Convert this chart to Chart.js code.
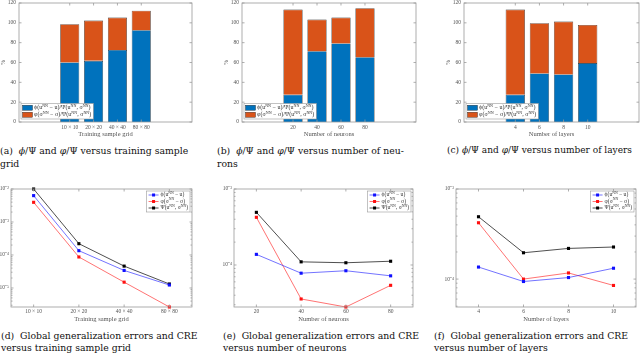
<!DOCTYPE html>
<html>
<head>
<meta charset="utf-8">
<script src="https://cdn.jsdelivr.net/npm/chart.js@4.4.1/dist/chart.umd.min.js"></script>
<style>
body { margin: 0; background: #fff; width: 640px; height: 354px; position: relative; overflow: hidden; }
canvas { position: absolute; }
.cap { position: absolute; font-family: 'DejaVu Serif'; font-size: 9.3px; color: #111; white-space: pre; }
.top { line-height: 13px; }
.bot { line-height: 11.5px; }
</style>
</head>
<body>
<canvas id="ca" width="213" height="142" style="left:0;top:0"></canvas>
<canvas id="cb" width="213" height="142" style="left:213px;top:0"></canvas>
<canvas id="cc" width="214" height="142" style="left:426px;top:0"></canvas>
<canvas id="cd" width="213" height="145" style="left:0;top:180px"></canvas>
<canvas id="ce" width="213" height="145" style="left:213px;top:180px"></canvas>
<canvas id="cf" width="214" height="145" style="left:426px;top:180px"></canvas>

<div class="cap top" style="left:0;top:144px">(a)  <i>ϕ</i>/Ψ and <i>φ</i>/Ψ versus training sample
grid</div>
<div class="cap top" style="left:217px;top:144px">(b)  <i>ϕ</i>/Ψ and <i>φ</i>/Ψ versus number of neu-
rons</div>
<div class="cap top" style="left:447px;top:144px;font-size:9px">(c) <i>ϕ</i>/Ψ and <i>φ</i>/Ψ versus number of layers</div>
<div class="cap bot" style="left:1px;top:330px">(d)  Global generalization errors and CRE
versus training sample grid</div>
<div class="cap bot" style="left:223px;top:330px">(e)  Global generalization errors and CRE
versus number of neurons</div>
<div class="cap bot" style="left:434px;top:330px">(f)  Global generalization errors and CRE
versus number of layers</div>

<script>
// categories
var gridLabels = ['10 × 10', '20 × 20', '40 × 40', '80 × 80'];
var neuronCounts = [20, 40, 60, 80];
var layerCounts = [4, 6, 8, 10];

// legend texts
var barLegend = ['ϕ(u^{NN} − u)/Ψ(u^{NN}, σ^{NN})', 'φ(σ^{NN} − σ)/Ψ(u^{NN}, σ^{NN})'];
var lineLegend = ['ϕ(u^{NN} − u)', 'φ(σ^{NN} − σ)', 'Ψ(u^{NN}, σ^{NN})'];

// stacked shares (%)
var gridPhiPct = [60.0, 61.7, 72.7, 92.5];
var gridVarphiPct = [38.6, 40.6, 32.6, 19.8];
var neuronPhiPct = [27.5, 71.4, 79.2, 65.4];
var neuronVarphiPct = [85.9, 31.9, 26.1, 49.3];
var layerPhiPct = [27.5, 49.0, 48.0, 59.4];
var layerVarphiPct = [85.9, 50.6, 53.3, 38.5];

// errors (log scale)
var gridPhiErr = [6.3e-3, 1.35e-4, 3.4e-5, 1.23e-5];
var gridVarphiErr = [3.95e-3, 8.7e-5, 1.5e-5, 2.65e-6];
var gridCre = [1.0e-2, 2.2e-4, 4.6e-5, 1.32e-5];
var neuronPhiErr = [1.38e-4, 7.8e-5, 8.4e-5, 7.2e-5];
var neuronVarphiErr = [4.24e-4, 3.57e-5, 2.8e-5, 5.4e-5];
var neuronCre = [4.93e-4, 1.1e-4, 1.07e-4, 1.12e-4];
var layerPhiErr = [1.36e-4, 9.4e-5, 1.04e-4, 1.32e-4];
var layerVarphiErr = [4.22e-4, 1.0e-4, 1.17e-4, 8.5e-5];
var layerCre = [4.92e-4, 1.96e-4, 2.19e-4, 2.27e-4];

Chart.defaults.font.family = 'Liberation Serif';
Chart.defaults.color = '#555';

var FONT = 'Liberation Serif';

function drawRich(ctx, str, x, y, size, measureOnly){
    var parts = str.split(/(\^\{[^}]*\})/);
    parts.forEach(function(p){
        if (!p) return;
        if (p.indexOf('^{') === 0) {
            var s = p.slice(2, -1);
            ctx.font = (size * 0.68) + 'px ' + FONT;
            if (!measureOnly) ctx.fillText(s, x, y - size * 0.38);
            x += ctx.measureText(s).width;
        } else {
            ctx.font = size + 'px ' + FONT;
            if (!measureOnly) ctx.fillText(p, x, y);
            x += ctx.measureText(p).width;
        }
    });
    return x;
}

// matlab style box with inward ticks
var boxPlugin = {
    id: 'matlabBox',
    afterDatasetsDraw: function(chart){
        var ctx = chart.ctx, a = chart.chartArea, sx = chart.scales.x, sy = chart.scales.y;
        ctx.save();
        ctx.strokeStyle = '#9a9a9a';
        ctx.lineWidth = 0.8;
        ctx.strokeRect(a.left, a.top, a.right - a.left, a.bottom - a.top);
        ctx.beginPath();
        sx.ticks.forEach(function(t){
            var px = sx.getPixelForValue(t.value);
            ctx.moveTo(px, a.bottom); ctx.lineTo(px, a.bottom - 2.5);
            ctx.moveTo(px, a.top); ctx.lineTo(px, a.top + 2.5);
        });
        sy.ticks.forEach(function(t){
            var py = sy.getPixelForValue(t.value);
            var len = t.minor ? 1.5 : 2.5;
            ctx.moveTo(a.left, py); ctx.lineTo(a.left + len, py);
            ctx.moveTo(a.right, py); ctx.lineTo(a.right - len, py);
        });
        ctx.stroke();
        ctx.restore();
    }
};

var legendPlugin = {
    id: 'cornerLegend',
    afterDraw: function(chart, args, opts){
        var ctx = chart.ctx, a = chart.chartArea;
        var sets = chart.data.datasets;
        var size = opts.kind === 'bar' ? 6 : 5.6, rowH = opts.kind === 'bar' ? 7 : 6.5, textX = opts.kind === 'bar' ? 13 : 14;
        ctx.save();
        var w = 0;
        sets.forEach(function(d){ w = Math.max(w, drawRich(ctx, d.label, 0, 0, size, true)); });
        var boxW = textX + w + 2, boxH = sets.length * rowH + 1.5;
        var x0, y0;
        if (opts.corner === 'bl') { x0 = a.left + 2; y0 = a.bottom - 3 - boxH; }
        else { x0 = a.right - 2 - boxW; y0 = a.top + 2; }
        ctx.fillStyle = '#fff';
        ctx.fillRect(x0, y0, boxW, boxH);
        ctx.strokeStyle = '#9a9a9a';
        ctx.lineWidth = 0.6;
        ctx.strokeRect(x0, y0, boxW, boxH);
        ctx.textBaseline = 'middle';
        sets.forEach(function(d, i){
            var cy = y0 + 0.75 + rowH * (i + 0.5);
            if (opts.kind === 'bar') {
                ctx.fillStyle = d.backgroundColor;
                ctx.fillRect(x0 + 1.5, cy - 2.5, 10, 5);
                ctx.strokeStyle = '#222';
                ctx.lineWidth = 0.4;
                ctx.strokeRect(x0 + 1.5, cy - 2.5, 10, 5);
            } else {
                ctx.strokeStyle = d.borderColor;
                ctx.lineWidth = 1;
                ctx.beginPath(); ctx.moveTo(x0 + 2, cy); ctx.lineTo(x0 + 12, cy); ctx.stroke();
                ctx.fillStyle = d.pointBackgroundColor;
                ctx.fillRect(x0 + 5.5, cy - 1.5, 3, 3);
            }
            ctx.fillStyle = '#333';
            drawRich(ctx, d.label, x0 + textX, cy, size, false);
        });
        ctx.restore();
    }
};

function barChart(id, names, phiPct, varphiPct, xTitle, frame){
    var pos = names.map(function(n, i){ return i + 1; });
    function pts(vals){ return pos.map(function(p, i){ return {x: p, y: vals[i]}; }); }
    new Chart(document.getElementById(id), {
        type: 'bar',
        data: {
            datasets: [
                {label: barLegend[0], data: pts(phiPct), backgroundColor: '#0072BD', borderColor: '#1c1c1c', borderWidth: 0.6, categoryPercentage: 1, barPercentage: 0.8},
                {label: barLegend[1], data: pts(varphiPct), backgroundColor: '#D95319', borderColor: '#1c1c1c', borderWidth: 0.6, categoryPercentage: 1, barPercentage: 0.8}
            ]
        },
        options: {
            responsive: false,
            animation: false,
            layout: {padding: {left: frame.pl, right: frame.pr, top: frame.pt, bottom: 0}},
            plugins: {legend: {display: false}, tooltip: {enabled: false}, cornerLegend: {corner: 'bl', kind: 'bar'}},
            scales: {
                x: {
                    type: 'linear', stacked: true, min: -0.22, max: 5.22,
                    grid: {display: false, drawTicks: false}, border: {display: false},
                    afterBuildTicks: function(s){ s.ticks = pos.map(function(v){ return {value: v}; }); },
                    afterFit: function(s){ s.height = frame.xh; s.paddingLeft = 0; s.paddingRight = 0; },
                    ticks: {autoSkip: false, maxRotation: 0, padding: 2, font: {size: 5.5}, callback: function(v){ return names[v - 1]; }},
                    title: {display: true, text: xTitle, font: {size: 6.5}, padding: {top: 0, bottom: 3.4}}
                },
                y: {
                    stacked: true, min: 0, max: 120,
                    grid: {display: false, drawTicks: false}, border: {display: false},
                    ticks: {stepSize: 20, padding: 3, font: {size: 5.5}},
                    afterFit: function(s){ s.width = frame.yw; s.paddingTop = 0; s.paddingBottom = 0; },
                    title: {display: true, text: '%', font: {size: 5.5}, padding: 0}
                }
            }
        },
        plugins: [boxPlugin, legendPlugin]
    });
}

var SUP = {'-': '⁻', '0': '⁰', '1': '¹', '2': '²', '3': '³', '4': '⁴', '5': '⁵', '6': '⁶', '7': '⁷', '8': '⁸', '9': '⁹'};

function logTicks(s){
    var out = [];
    for (var e = Math.floor(Math.log10(s.min)); e <= Math.ceil(Math.log10(s.max)); e++) {
        for (var m = 1; m < 10; m++) {
            var v = m * Math.pow(10, e);
            if (v >= s.min * 0.999 && v <= s.max * 1.001) out.push({value: v, minor: m !== 1, exp: e});
        }
    }
    s.ticks = out;
}

function lineChart(id, cfg){
    function pts(vals){ return cfg.xs.map(function(x, i){ return {x: x, y: vals[i]}; }); }
    function ds(label, vals, line, mark){
        return {label: label, data: pts(vals), borderColor: line, backgroundColor: mark, pointBackgroundColor: mark,
                pointBorderWidth: 0, pointStyle: 'rect', pointRadius: 2.2, borderWidth: 1, clip: false, tension: 0};
    }
    new Chart(document.getElementById(id), {
        type: 'line',
        data: {
            datasets: [
                ds(lineLegend[0], cfg.phi, 'rgba(40,40,255,0.65)', '#1010ff'),
                ds(lineLegend[1], cfg.varphi, 'rgba(255,40,40,0.65)', '#ff1010'),
                ds(lineLegend[2], cfg.cre, 'rgba(20,20,20,0.75)', '#000')
            ]
        },
        options: {
            responsive: false,
            animation: false,
            layout: {padding: {left: 0, right: cfg.frame.pr, top: cfg.frame.pt, bottom: 0}},
            plugins: {legend: {display: false}, tooltip: {enabled: false}, cornerLegend: {corner: 'tr', kind: 'line'}},
            scales: {
                x: {
                    type: 'linear', min: cfg.xMin, max: cfg.xMax,
                    grid: {display: false, drawTicks: false}, border: {display: false},
                    afterBuildTicks: function(s){ s.ticks = cfg.xs.map(function(v){ return {value: v}; }); },
                    afterFit: function(s){ s.height = cfg.frame.xh; s.paddingLeft = 0; s.paddingRight = 0; },
                    ticks: {autoSkip: false, maxRotation: 0, padding: 1.5, font: {size: 5.5},
                            callback: function(v, i){ return cfg.names[i]; }},
                    title: {display: true, text: cfg.xTitle, font: {size: 6.5}, padding: {top: 0, bottom: 1.8}}
                },
                y: {
                    type: 'logarithmic', min: cfg.yMin, max: cfg.yMax,
                    grid: {display: false, drawTicks: false}, border: {display: false},
                    afterBuildTicks: logTicks,
                    afterFit: function(s){ s.width = cfg.frame.yw; s.paddingTop = 0; s.paddingBottom = 0; },
                    ticks: {autoSkip: false, padding: 2, font: {size: 5.5},
                            callback: function(v, i, ticks){
                                var t = ticks[i];
                                if (t.minor) return '';
                                return '10' + String(t.exp).split('').map(function(c){ return SUP[c]; }).join('');
                            }}
                }
            }
        },
        plugins: [boxPlugin, legendPlugin]
    });
}

barChart('ca', gridLabels, gridPhiPct, gridVarphiPct, 'Training sample grid', {pl: 0, yw: 19, pr: 21, pt: 3, xh: 20});
barChart('cb', neuronCounts.map(String), neuronPhiPct, neuronVarphiPct, 'Number of neurons', {pl: 10, yw: 19, pr: 10, pt: 3, xh: 20});
barChart('cc', layerCounts.map(String), layerPhiPct, layerVarphiPct, 'Number of layers', {pl: 19, yw: 19, pr: 1, pt: 3, xh: 20});

lineChart('cd', {xs: [1, 2, 3, 4], names: gridLabels, xMin: 0.5, xMax: 4.5, yMin: 2.65e-6, yMax: 1e-2,
    phi: gridPhiErr, varphi: gridVarphiErr, cre: gridCre, xTitle: 'Training sample grid',
    frame: {yw: 11, pr: 21, pt: 9, xh: 18}});
lineChart('ce', {xs: neuronCounts, names: neuronCounts.map(String), xMin: 10, xMax: 90, yMin: 2.8e-5, yMax: 1e-3,
    phi: neuronPhiErr, varphi: neuronVarphiErr, cre: neuronCre, xTitle: 'Number of neurons',
    frame: {yw: 21, pr: 13, pt: 9, xh: 18}});
lineChart('cf', {xs: layerCounts, names: layerCounts.map(String), xMin: 3, xMax: 11, yMin: 4.9e-5, yMax: 1e-3,
    phi: layerPhiErr, varphi: layerVarphiErr, cre: layerCre, xTitle: 'Number of layers',
    frame: {yw: 30, pr: 4, pt: 9, xh: 18}});
</script>
</body>
</html>
